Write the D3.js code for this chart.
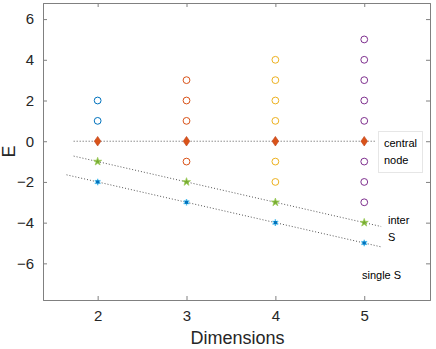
<!DOCTYPE html>
<html>
<head>
<meta charset="utf-8">
<script src="https://cdn.jsdelivr.net/npm/d3@7"></script>
<style>
body { margin: 0; background: #fff; }
text { font-family: "Liberation Sans", Arial, sans-serif; }
</style>
</head>
<body>
<script>
// data
var dims = [2, 3, 4, 5];
var circleVals = [[1, 2], [-1, 1, 2, 3], [-2, -1, 1, 2, 3, 4], [-3, -2, -1, 1, 2, 3, 4, 5]];
var circleColors = ["#0072BD", "#D95319", "#EDB120", "#7E2F8E"];
var centralVals = [0, 0, 0, 0];
var interVals = [-1, -2, -3, -4];
var singleVals = [-2, -3, -4, -5];
var xTicks = [2, 3, 4, 5];
var yTicks = [-6, -4, -2, 0, 2, 4, 6];
// dotted guide lines [x0, y0, x1, y1]
var guideCentral = [[1.73, 0], [5.13, 0]];
var guideInter = [[1.73, -0.73], [5.19, -4.19]];
var guideSingle = [[1.65, -1.65], [5.2, -5.2]];

var W = 436, H = 349;
var pLeft = 43, pRight = 430, pTop = 3, pBottom = 300;

var x = d3.scaleLinear().domain([1.385, 5.74]).range([pLeft, pRight]);
var y = d3.scaleLinear().domain([-7.8, 6.79]).range([pBottom, pTop]);

var svg = d3.select("body").append("svg")
   .attr("width", W)
   .attr("height", H);

var axisColor = "#262626";

// axes
var gx = svg.append("g").attr("transform", "translate(0," + pBottom + ")")
   .call(d3.axisBottom(x).tickValues(xTicks).tickSize(-4).tickPadding(10).tickFormat(d3.format("d")));
var gxt = svg.append("g").attr("transform", "translate(0," + pTop + ")")
   .call(d3.axisTop(x).tickValues(xTicks).tickSize(-4).tickFormat(""));
var gy = svg.append("g").attr("transform", "translate(" + pLeft + ",0)")
   .call(d3.axisLeft(y).tickValues(yTicks).tickSize(-4).tickPadding(9).tickFormat(d3.format("d")));
var gyr = svg.append("g").attr("transform", "translate(" + pRight + ",0)")
   .call(d3.axisRight(y).tickValues(yTicks).tickSize(-4).tickFormat(""));

[gx, gxt, gy, gyr].forEach(function(g) {
   g.select(".domain").attr("stroke", "#808080").attr("stroke-width", 1);
   g.selectAll(".tick line").attr("stroke", "#808080");
   g.selectAll(".tick text")
      .attr("fill", axisColor)
      .style("font-size", "15px")
      .style("font-family", "Liberation Sans, Arial, sans-serif");
});

// axis labels
svg.append("text")
   .attr("x", (pLeft + pRight) / 2 + 1)
   .attr("y", 344)
   .attr("text-anchor", "middle")
   .attr("fill", axisColor)
   .style("font-size", "18px")
   .text("Dimensions");

svg.append("text")
   .attr("transform", "translate(15," + (pTop + pBottom) / 2 + ") rotate(-90)")
   .attr("text-anchor", "middle")
   .attr("fill", axisColor)
   .style("font-size", "18px")
   .text("E");

// dotted lines
var line = d3.line()
   .x(function(d) { return x(d[0]) })
   .y(function(d) { return y(d[1]) });

[guideCentral, guideInter, guideSingle].forEach(function(g) {
   svg.append("path")
      .attr("d", line(g))
      .style("stroke", "#555")
      .style("stroke-width", 1)
      .style("stroke-dasharray", "1,2")
      .style("fill", "none");
});

// circles for each dimension
dims.forEach(function(dm, i) {
   svg.selectAll(".c" + i)
      .data(circleVals[i])
      .enter()
      .append("circle")
      .attr("class", "c" + i)
      .attr("cx", x(dm))
      .attr("cy", function(d) { return y(d) })
      .attr("r", 3.4)
      .style("fill", "none")
      .style("stroke", circleColors[i])
      .style("stroke-width", 1);
});

// central node diamonds
svg.selectAll(".dia")
   .data(dims)
   .enter()
   .append("path")
   .attr("class", "dia")
   .attr("transform", function(d, i) { return "translate(" + x(d) + "," + y(centralVals[i]) + ")" })
   .attr("d", "M0,-4.8L3.3,0L0,4.8L-3.3,0Z")
   .style("fill", "#D95319")
   .style("stroke", "#C0401A")
   .style("stroke-width", 0.6);

// stars
var star = d3.symbol().type(d3.symbolStar).size(20);
svg.selectAll(".inter")
   .data(dims)
   .enter()
   .append("path")
   .attr("class", "inter")
   .attr("transform", function(d, i) { return "translate(" + x(d) + "," + y(interVals[i]) + ")" })
   .attr("d", star)
   .style("fill", "#77AC30")
   .style("stroke", "#9CCB5A")
   .style("stroke-width", 0.8);

var asterisk = d3.symbol().type(d3.symbolAsterisk).size(30);
dims.forEach(function(dm, i) {
   var g = svg.append("g")
      .attr("transform", "translate(" + x(dm) + "," + y(singleVals[i]) + ")");
   g.append("path")
      .attr("d", asterisk)
      .style("fill", "none")
      .style("stroke", "#4DBEEE")
      .style("stroke-width", 1.4);
   g.append("path")
      .attr("d", d3.symbol().type(d3.symbolSquare).size(10))
      .style("fill", "#0072BD");
});

// text annotations
var box = svg.append("g");
box.append("rect")
   .attr("x", 378.5)
   .attr("y", 131.5)
   .attr("width", 44)
   .attr("height", 41)
   .style("fill", "#fff")
   .style("stroke", "#e6e6e6");
box.append("text").attr("x", 384).attr("y", 147).style("font-size", "11px").attr("fill", "#000").text("central");
box.append("text").attr("x", 384).attr("y", 164).style("font-size", "11px").attr("fill", "#000").text("node");

svg.append("text").attr("x", 388).attr("y", 224).style("font-size", "11px").attr("fill", "#000").text("inter");
svg.append("text").attr("x", 388).attr("y", 241).style("font-size", "11px").attr("fill", "#000").text("S");
svg.append("text").attr("x", 362).attr("y", 279).style("font-size", "11px").attr("fill", "#000").text("single S");
</script>
</body>
</html>
